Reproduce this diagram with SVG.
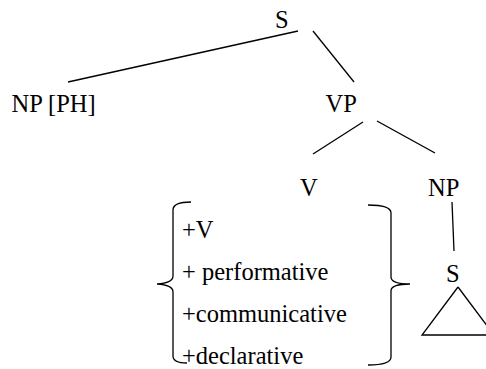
<svg xmlns="http://www.w3.org/2000/svg" width="486" height="369" viewBox="0 0 486 369">
<style>
text{font-family:"Liberation Serif","Times New Roman",serif;font-size:24.5px;fill:#000}
.l{stroke:#000;stroke-width:1.3;fill:none}
</style>
<rect width="486" height="369" fill="#fff"/>
<g id="connectors">
<line class="l" x1="298" y1="31" x2="68" y2="82"/>
<line class="l" x1="313" y1="31" x2="354" y2="82"/>
<line class="l" x1="363" y1="122" x2="313" y2="154"/>
<line class="l" x1="377" y1="121" x2="435" y2="153"/>
<line class="l" x1="452" y1="202" x2="454" y2="251"/>
</g>
<g id="S"><text x="275" y="28">S</text></g>
<g id="NP-PH"><text x="11.5" y="112">NP [PH]</text></g>
<g id="VP"><text x="325.5" y="112">VP</text></g>
<g id="V"><text x="300" y="196">V</text></g>
<g id="NP"><text x="428" y="196">NP</text></g>
<g id="S2"><text x="446" y="282">S</text>
<path class="l" d="M458,287 L422,335 L486,335 M458,287 L494,335"/></g>
<g id="features">
<path class="l" d="M191,202 Q173,202 173,210 L173,276 Q173,283 157,284 Q173,285 173,292 L173,356 Q173,363 187,363"/>
<text x="182" y="238">+V</text>
<text x="182" y="280">+ performative</text>
<text x="182" y="322">+communicative</text>
<text x="182" y="364">+declarative</text>
<path class="l" d="M368,205 Q391,205 391,213 L391,277 Q391,284 410,284 Q391,284 391,291 L391,357 Q391,365 368,365"/>
</g>
</svg>
